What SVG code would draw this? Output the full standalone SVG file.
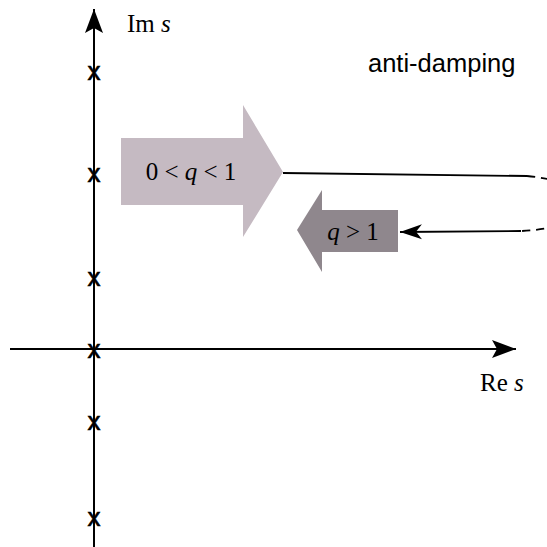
<svg xmlns="http://www.w3.org/2000/svg" width="547" height="547" viewBox="0 0 547 547">
<style>
.ax{stroke:#000;stroke-width:2;fill:none}
.ln{stroke:#000;stroke-width:1.8;fill:none}
.dash{stroke:#000;stroke-width:1.8;fill:none;stroke-dasharray:8 6}
.serif{font-family:"Liberation Serif","Times New Roman",serif;font-size:25px;fill:#000}
.sans{font-family:"Liberation Sans",Arial,sans-serif;font-size:25.5px;fill:#000}
.pole{font-family:"Liberation Sans",Arial,sans-serif;font-size:26px;fill:#000;text-anchor:middle;stroke:#000;stroke-width:0.6}
</style>
<defs>
<marker id="ah" markerWidth="26" markerHeight="20" refX="24" refY="10" orient="auto" markerUnits="userSpaceOnUse">
<path d="M0,1 L24,10 L0,19 L5,10 Z" fill="#000"/>
</marker>
<marker id="ah2" markerWidth="24" markerHeight="16" refX="22" refY="8" orient="auto" markerUnits="userSpaceOnUse">
<path d="M0,0.5 L22,8 L0,15.5 L6,8 Z" fill="#000"/>
</marker>
</defs>
<g id="connectors">
<line class="ax" x1="94" y1="547" x2="94" y2="9" marker-end="url(#ah)"/>
<line class="ax" x1="10" y1="349" x2="516" y2="349" marker-end="url(#ah)"/>
<path class="ln" d="M283,173 L527,176"/>
<path class="dash" d="M527,176 C610,184 610,226 522,231"/>
<path class="ln" d="M521,231 L400,232" marker-end="url(#ah2)"/>
</g>
<g id="poles">
<text class="pole" x="94" y="80">x</text>
<text class="pole" x="94" y="182">x</text>
<text class="pole" x="94" y="286">x</text>
<text class="pole" x="94" y="358">x</text>
<text class="pole" x="94" y="430">x</text>
<text class="pole" x="94" y="526">x</text>
</g>
<g id="im-label"><text class="serif" x="127" y="32">Im <tspan font-style="italic">s</tspan></text></g>
<g id="re-label"><text class="serif" x="480" y="391">Re <tspan font-style="italic">s</tspan></text></g>
<g id="anti-damping"><text class="sans" x="368" y="72">anti-damping</text></g>
<g id="arrow-underdamped">
<polygon points="121,138 243,138 243,105 283,172 243,237 243,205 121,205" fill="#c5bac2"/>
<text class="serif" x="191" y="180" text-anchor="middle">0 &lt; <tspan font-style="italic">q</tspan> &lt; 1</text>
</g>
<g id="arrow-overdamped">
<polygon points="398,210 322,210 322,190 297,230 322,272 322,252 398,252" fill="#8f878d"/>
<text class="serif" x="353" y="240" text-anchor="middle"><tspan font-style="italic">q</tspan> &gt; 1</text>
</g>
</svg>
